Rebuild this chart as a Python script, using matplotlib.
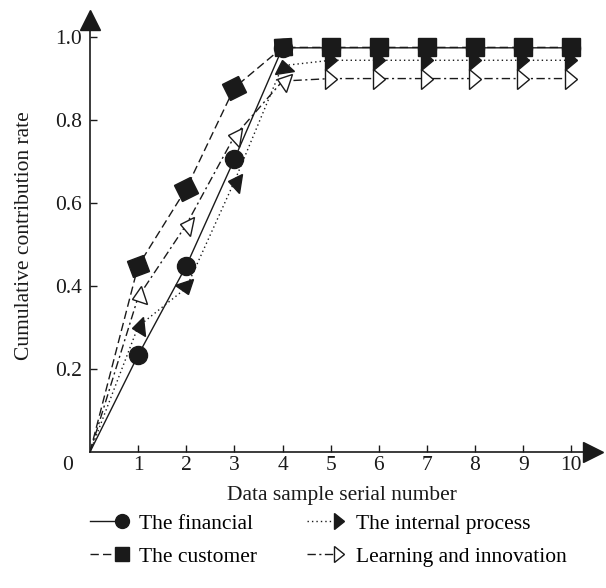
import numpy as np
import matplotlib
matplotlib.use('Agg')
import matplotlib.pyplot as plt
from matplotlib.markers import MarkerStyle
from matplotlib.transforms import Affine2D
from matplotlib.lines import Line2D
from matplotlib.legend_handler import HandlerLine2D

plt.rcParams['font.family'] = 'serif'
plt.rcParams['font.serif'] = ['Liberation Serif', 'DejaVu Serif']

# --- data ---
x = [0, 1, 2, 3, 4, 5, 6, 7, 8, 9, 10]
financial = [0, 0.233, 0.448, 0.705, 0.973, 0.973, 0.973, 0.973, 0.973, 0.973, 0.973]
customer = [0, 0.448, 0.634, 0.877, 0.974, 0.974, 0.974, 0.974, 0.974, 0.974, 0.974]
internal = [0, 0.302, 0.395, 0.651, 0.930, 0.943, 0.943, 0.943, 0.943, 0.943, 0.943]
learning = [0, 0.373, 0.547, 0.760, 0.893, 0.899, 0.899, 0.899, 0.899, 0.899, 0.899]

labels = ['The financial', 'The customer', 'The internal process', 'Learning and innovation']
xticks = [1, 2, 3, 4, 5, 6, 7, 8, 9, 10]
yticks = [0.2, 0.4, 0.6, 0.8, 1.0]

# marker rotation (deg) at x = 1..10, the markers follow the line in the source
rot_fin = [0] * 10
rot_cus = [20, 25, 27, 5, 0, 0, 0, 0, 0, 0]
rot_int = [185, -70, 170, 100, 0, 0, 0, 0, 0, 0]
rot_lrn = [200, 168, 170, 160, 0, 0, 0, 0, 0, 0]

INK = '#1a1a1a'
FS = 15.5

fig = plt.figure(figsize=(6.06, 5.88), dpi=100)
ax = fig.add_axes([0.1485, 0.2313, 0.830, 0.7347])
ax.set_xlim(0, 10.45)
ax.set_ylim(0, 1.04)

# (values, linestyle, dashes, marker, face, rotations, size, legend size, zorder)
series = [
    (financial, '-', None, 'o', INK, rot_fin, 13, 10, 3),
    (internal, ':', (1, 2.2), '>', INK, rot_int, 14, 12, 4),
    (learning, '-.', (6, 2.5, 1.5, 2.5), '>', 'white', rot_lrn, 14, 12, 5),
    (customer, '--', (6, 3), 's', INK, rot_cus, 12.5, 10, 6),
]
handles = {}
for vals, ls, dashes, mk, face, rots, ms, lms, z in series:
    kw = dict(color=INK, lw=1.0, zorder=z)
    if dashes is not None:
        kw['dashes'] = dashes
    else:
        kw['ls'] = ls
    ax.plot(x, vals, **kw)
    for xi, yi, r in zip(x[1:], vals[1:], rots):
        tr = Affine2D()
        if mk == '>':
            tr.scale(0.65, 1.0)
        tr.rotate_deg(r)
        ax.plot(xi, yi, ls='none', marker=MarkerStyle(mk, transform=tr), ms=ms,
                mfc=face, mec=INK, mew=1.0, zorder=z + 0.5)
    hkw = dict(kw)
    hkw.pop('zorder')
    tr = Affine2D().scale(0.65, 1.0) if mk == '>' else None
    handles[id(vals)] = Line2D([], [], marker=MarkerStyle(mk, transform=tr), ms=lms,
                               mfc=face, mec=INK, mew=1.0, **hkw)

# axes look: only left/bottom with arrow heads
for s in ['top', 'right']:
    ax.spines[s].set_visible(False)
for s in ['left', 'bottom']:
    ax.spines[s].set_linewidth(1.2)
    ax.spines[s].set_color(INK)
ax.plot(1, 0, '>', color=INK, ms=15, transform=ax.transAxes, clip_on=False)
ax.plot(0, 1, '^', color=INK, ms=15, transform=ax.transAxes, clip_on=False)

ax.set_xticks(xticks)
ax.set_yticks(yticks)
ax.set_yticklabels(['0.2', '0.4', '0.6', '0.8', '1.0'])
ax.tick_params(direction='in', length=5, width=1, colors=INK, labelsize=FS)
ax.tick_params(axis='x', pad=3)
ax.tick_params(axis='y', pad=6)
ax.annotate('0', xy=(0, 0), xytext=(-16, -3), textcoords='offset points',
            ha='center', va='top', fontsize=FS, color=INK)

ax.set_xlabel('Data sample serial number', fontsize=FS, labelpad=8, color=INK)
ax.set_ylabel('Cumulative contribution rate', fontsize=FS, labelpad=15, color=INK)


class EndMarker(HandlerLine2D):
    # marker sits at the right end of the legend line
    def create_artists(self, *args, **kwargs):
        arts = super().create_artists(*args, **kwargs)
        arts[0].set_markevery([2])
        return arts


order = [financial, customer, internal, learning]
fig.legend([handles[id(v)] for v in order], labels, ncol=2, frameon=False,
           loc='upper left', bbox_to_anchor=(0.13, 0.145), borderpad=0,
           fontsize=FS, handlelength=1.5, handletextpad=0.8, columnspacing=2.3,
           labelspacing=0.6, handler_map={Line2D: EndMarker()})

fig.savefig('out.png', dpi=100)
